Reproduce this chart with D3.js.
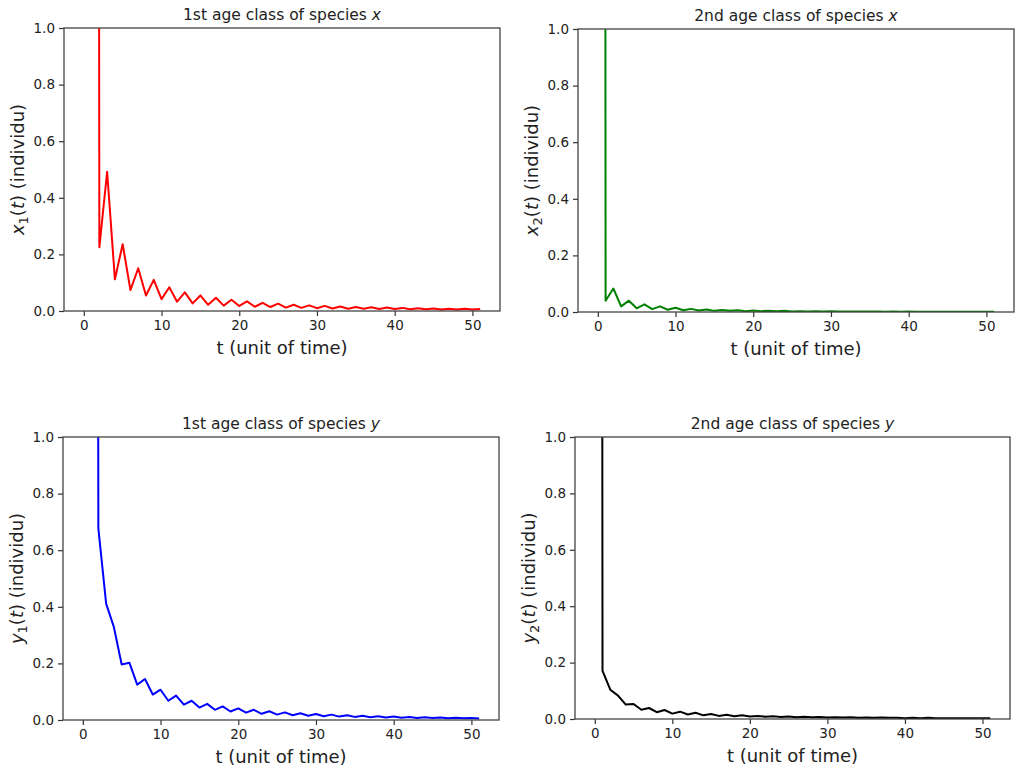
<!DOCTYPE html>
<html>
<head>
<meta charset="utf-8">
<script src="https://cdn.jsdelivr.net/npm/d3@7"></script>
<style>
  body { margin: 0; background: #fff; }
  text { font-family: "DejaVu Sans", sans-serif; fill: #222; }
</style>
</head>
<body>
<div id="chart"></div>
<script>
// time steps 0..51
const t = d3.range(0, 52);

// values at t = 0 (and t = 1 for x1, y1) are far above the 1.0 limit and get clipped
const x1 = [60, 25, 0.225, 0.492, 0.112, 0.236, 0.074, 0.151, 0.055, 0.110,
    0.042, 0.084, 0.033, 0.066, 0.027, 0.055, 0.022, 0.047, 0.019, 0.040,
    0.018, 0.034, 0.015, 0.029, 0.014, 0.026, 0.012, 0.022, 0.011, 0.020,
    0.010, 0.018, 0.009, 0.016, 0.008, 0.014, 0.008, 0.013, 0.007, 0.012,
    0.007, 0.011, 0.006, 0.010, 0.006, 0.009, 0.005, 0.008, 0.005, 0.008,
    0.005, 0.007];

const x2 = [40, 0.040, 0.083, 0.020, 0.040, 0.013, 0.027, 0.010, 0.020, 0.008,
    0.015, 0.006, 0.011, 0.005, 0.009, 0.004, 0.007, 0.004, 0.006, 0.003,
    0.005, 0.003, 0.004, 0.003, 0.004, 0.002, 0.003, 0.002, 0.003, 0.002,
    0.003, 0.002, 0.002, 0.002, 0.002, 0.002, 0.002, 0.001, 0.002, 0.001,
    0.002, 0.001, 0.001, 0.001, 0.001, 0.001, 0.001, 0.001, 0.001, 0.001,
    0.001, 0.001];

const y1 = [50, 20, 0.677, 0.411, 0.328, 0.196, 0.202, 0.125, 0.145, 0.090,
    0.107, 0.068, 0.086, 0.054, 0.068, 0.044, 0.057, 0.036, 0.048, 0.030,
    0.041, 0.026, 0.036, 0.022, 0.031, 0.019, 0.027, 0.017, 0.024, 0.015,
    0.021, 0.013, 0.019, 0.012, 0.017, 0.011, 0.015, 0.010, 0.013, 0.009,
    0.012, 0.008, 0.011, 0.007, 0.010, 0.007, 0.009, 0.006, 0.008, 0.006,
    0.007, 0.005];

const y2 = [30, 0.171, 0.104, 0.083, 0.051, 0.053, 0.033, 0.039, 0.024, 0.032,
    0.019, 0.026, 0.016, 0.022, 0.013, 0.018, 0.011, 0.015, 0.010, 0.013,
    0.009, 0.011, 0.008, 0.010, 0.007, 0.009, 0.006, 0.008, 0.006, 0.007,
    0.005, 0.006, 0.005, 0.006, 0.004, 0.005, 0.004, 0.005, 0.004, 0.004,
    0.003, 0.004, 0.003, 0.004, 0.003, 0.003, 0.003, 0.003, 0.003, 0.003,
    0.003, 0.003];

const xTicks = [0, 10, 20, 30, 40, 50];
const yTicks = [0.0, 0.2, 0.4, 0.6, 0.8, 1.0];

const panels = [
    { values: x1, color: "#ff0000", title: "1st age class of species ", sym: "x", sub: "1",
      box: { left: 64, right: 500, top: 28, bottom: 311 } },
    { values: x2, color: "#008000", title: "2nd age class of species ", sym: "x", sub: "2",
      box: { left: 578, right: 1014, top: 29, bottom: 312 } },
    { values: y1, color: "#0000ff", title: "1st age class of species ", sym: "y", sub: "1",
      box: { left: 63, right: 499, top: 437, bottom: 720 } },
    { values: y2, color: "#000000", title: "2nd age class of species ", sym: "y", sub: "2",
      box: { left: 575, right: 1010, top: 437, bottom: 719 } }
];

const svg = d3.select("#chart").append("svg")
    .attr("width", 1021)
    .attr("height", 772);

panels.forEach((p, i) => {
    const b = p.box;
    const w = b.right - b.left;
    const h = b.bottom - b.top;

    // matplotlib default 5% margin on x
    const pad = (51 - 0) * 0.05;
    const xScale = d3.scaleLinear().domain([0 - pad, 51 + pad]).range([0, w]);
    const yScale = d3.scaleLinear().domain([0, 1]).range([h, 0]);

    const g = svg.append("g").attr("transform", `translate(${b.left},${b.top})`);

    g.append("clipPath")
        .attr("id", "clip" + i)
        .append("rect")
        .attr("width", w)
        .attr("height", h);

    g.append("path")
        .datum(t)
        .attr("fill", "none")
        .attr("stroke", p.color)
        .attr("stroke-width", 2)
        .attr("stroke-linejoin", "round")
        .attr("clip-path", `url(#clip${i})`)
        .attr("d", d3.line()
            .x(d => xScale(d))
            .y(d => yScale(p.values[d]))
        );

    const xAxis = d3.axisBottom(xScale).tickValues(xTicks).tickFormat(d3.format("d")).tickSize(5).tickPadding(4);
    const yAxis = d3.axisLeft(yScale).tickValues(yTicks).tickFormat(d3.format(".1f")).tickSize(5).tickPadding(4);

    const gx = g.append("g")
        .attr("transform", `translate(0,${h})`)
        .call(xAxis);
    const gy = g.append("g").call(yAxis);

    [gx, gy].forEach(a => {
        a.select(".domain").remove();
        a.selectAll(".tick line").attr("stroke", "#333").attr("stroke-width", 1.2);
        a.selectAll(".tick text")
            .attr("font-family", "DejaVu Sans, sans-serif")
            .attr("font-size", 13.5)
            .attr("fill", "#222");
    });

    // frame
    g.append("rect")
        .attr("width", w)
        .attr("height", h)
        .attr("fill", "none")
        .attr("stroke", "#444")
        .attr("stroke-width", 1.3);

    // title
    const title = g.append("text")
        .attr("x", w / 2)
        .attr("y", -8)
        .attr("text-anchor", "middle")
        .attr("font-size", 15.5);
    title.append("tspan").text(p.title);
    title.append("tspan").attr("font-style", "italic").text(p.sym);

    // x label
    g.append("text")
        .attr("x", w / 2)
        .attr("y", h + 43)
        .attr("text-anchor", "middle")
        .attr("font-size", 18)
        .text("t (unit of time)");

    // y label with math subscript
    const yl = g.append("text")
        .attr("transform", `translate(-40,${h / 2}) rotate(-90)`)
        .attr("text-anchor", "middle")
        .attr("font-size", 18);
    yl.append("tspan").attr("font-style", "italic").text(p.sym);
    yl.append("tspan").attr("font-size", 13).attr("dy", 4).text(p.sub);
    yl.append("tspan").attr("dy", -4).text("(");
    yl.append("tspan").attr("font-style", "italic").text("t");
    yl.append("tspan").text(")\u00a0(individu)");
});
</script>
</body>
</html>
